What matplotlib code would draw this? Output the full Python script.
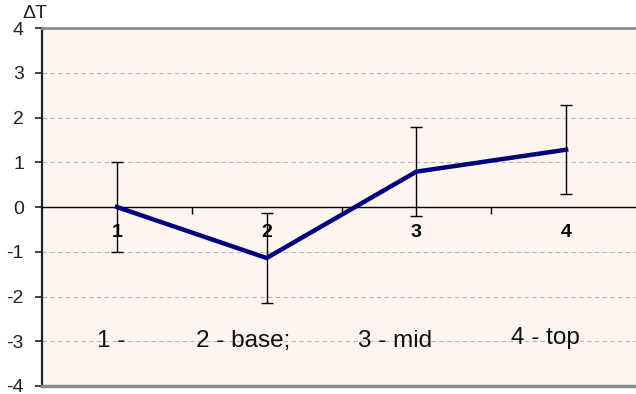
import matplotlib.pyplot as plt
import numpy as np

plt.rcParams['font.family'] = ['Liberation Sans', 'DejaVu Sans']
plt.rcParams['axes.unicode_minus'] = False

positions = [1, 2, 3, 4]
cat_labels = ['1', '2', '3', '4']
delta_t = [0.0, -1.14, 0.79, 1.28]
err = [1.0, 1.0, 1.0, 1.0]
notes = ['1 -', '2 - base;', '3 - mid', '4 - top']
note_x = [0.96, 1.84, 2.86, 3.86]
note_y = [-3.0, -3.0, -3.0, -2.93]

fig = plt.figure(figsize=(6.36, 3.94), dpi=100)
ax = fig.add_axes([42/636, 8/394, 599/636, 358/394])
ax.set_facecolor('#fdf5ef')

ax.set_xlim(0.5, 4.5)
ax.set_ylim(-4, 4)

for y in range(-4, 5):
    if y != 0:
        ax.axhline(y, color='#b8b8b8', lw=0.8, ls=(0, (4, 3)), zorder=1)

ax.errorbar(positions, delta_t, yerr=err, fmt='none', ecolor='black',
            elinewidth=1.0, capsize=4.5, capthick=1.0, zorder=3)
ax.plot(positions, delta_t, color='#000080', lw=3.2, zorder=4)

# axes styling
ax.spines['right'].set_visible(False)
ax.spines['top'].set_color('#8c8c8c')
ax.spines['top'].set_linewidth(2)
ax.spines['left'].set_color('#222222')
ax.spines['left'].set_linewidth(1.6)
ax.spines['bottom'].set_position(('data', 0))
ax.spines['bottom'].set_color('black')
ax.spines['bottom'].set_linewidth(1.0)
ax.axhline(-4, color='#8c8c8c', lw=2.5, clip_on=False, zorder=5)

ax.set_yticks(range(-4, 5))
ax.tick_params(axis='y', direction='out', length=5, width=1.2,
               labelsize=14, pad=8, colors='#222222')

ax.set_xticks([1.5, 2.5, 3.5])
ax.set_xticklabels([])
ax.tick_params(axis='x', which='major', direction='out', length=5, width=1)
ax.set_xticks(positions, minor=True)
ax.set_xticklabels(cat_labels, minor=True, fontweight='bold', fontsize=14)
ax.tick_params(axis='x', which='minor', length=0, pad=12)

for x, y, t in zip(note_x, note_y, notes):
    ax.text(x, y, t, fontsize=17.5, ha='center', va='center', color='#111111')

fig.text(22/636, 1 - 13/394, 'ΔT', fontsize=14, ha='left', va='center',
         color='#222222')

fig.savefig('out.png', dpi=100)
